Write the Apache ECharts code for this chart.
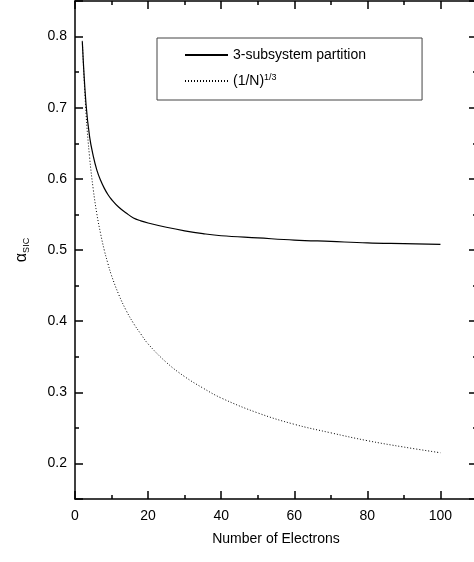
<!DOCTYPE html>
<html>
<head>
<meta charset="utf-8">
<script src="https://cdn.jsdelivr.net/npm/echarts@6/dist/echarts.min.js"></script>
<style>
  html, body { margin: 0; padding: 0; background: #fff; }
  #main { width: 474px; height: 562px; }
</style>
</head>
<body>
<div id="main"></div>
<script>
// number of electrons N
var nElectrons = [2, 3, 4, 5, 6, 7, 8, 9, 10, 12, 14, 16, 18, 20, 25, 30, 35, 40, 50, 60, 70, 80, 90, 100];
// 3-subsystem partition (solid)
var partition = [0.793, 0.706, 0.659, 0.632, 0.612, 0.598, 0.587, 0.578, 0.571, 0.560, 0.552, 0.545, 0.541, 0.538, 0.532, 0.527, 0.523, 0.520, 0.517, 0.514, 0.512, 0.510, 0.509, 0.508];
// (1/N)^(1/3) (dotted)
var cubeRoot = [0.794, 0.693, 0.630, 0.585, 0.550, 0.523, 0.500, 0.481, 0.464, 0.437, 0.415, 0.397, 0.382, 0.368, 0.342, 0.322, 0.306, 0.292, 0.271, 0.255, 0.243, 0.232, 0.223, 0.215];
var seriesNames = ['3-subsystem partition', '(1/N)^1/3'];

function pairs(ys) {
  return nElectrons.map(function (n, i) { return [n, ys[i]]; });
}

var font = 'Liberation Sans, Arial, sans-serif';
var myChart = echarts.init(document.getElementById('main'));

var axisLine = { show: true, onZero: false, lineStyle: { color: '#000', width: 1.5 } };
var majorTick = { show: true, inside: true, length: 8, lineStyle: { color: '#000', width: 1.5 } };
var minorTick = { show: true, splitNumber: 2, length: 4, lineStyle: { color: '#000', width: 1.5 } };

function xAx(pos, labels) {
  return {
    type: 'value', position: pos, min: 0, max: 110, interval: 20,
    axisLine: axisLine, axisTick: majorTick, minorTick: minorTick,
    splitLine: { show: false },
    axisLabel: { show: labels, color: '#000', fontSize: 14, fontFamily: font, margin: 10,
      formatter: function (v) { return v > 100 ? '' : String(v); } },
    name: labels ? 'Number of Electrons' : '',
    nameLocation: 'middle', nameGap: 33,
    nameTextStyle: { color: '#000', fontSize: 14, fontFamily: font }
  };
}

function yAx(pos, labels) {
  return {
    type: 'value', position: pos, min: 0.15, max: 0.85, splitNumber: 7,
    axisLine: axisLine, axisTick: majorTick, minorTick: minorTick,
    splitLine: { show: false },
    axisLabel: { show: labels, color: '#000', fontSize: 14, fontFamily: font, margin: 8,
      showMinLabel: false, showMaxLabel: false,
      formatter: function (v) { return v.toFixed(1); } },
    name: labels ? '{a|α}{s|SIC}' : '',
    nameLocation: 'middle', nameGap: 44, nameRotate: 90,
    nameTextStyle: {
      color: '#000', fontFamily: font,
      rich: {
        a: { fontSize: 16, fontFamily: font, color: '#000', lineHeight: 18, verticalAlign: 'middle' },
        s: { fontSize: 9, fontFamily: font, color: '#000', lineHeight: 18, verticalAlign: 'bottom', padding: [6, 0, 0, 0] }
      }
    }
  };
}

var option = {
  animation: false,
  backgroundColor: '#fff',
  grid: { left: 75, top: 1, right: -3, bottom: 63, containLabel: false, outerBoundsMode: 'none' },
  legend: {
    orient: 'vertical', left: 157, top: 38,
    padding: [10, 56, 12, 27],
    borderColor: '#444', borderWidth: 1,
    itemWidth: 43, itemHeight: 14, itemGap: 11,
    itemStyle: { opacity: 0 },
    data: seriesNames,
    formatter: function (name) {
      if (name === seriesNames[1]) return '{m|(1/N)}{p|1/3}';
      return '{m|' + name + '}';
    },
    textStyle: {
      color: '#000', fontSize: 14, fontFamily: font,
      rich: {
        m: { fontSize: 14, fontFamily: font, color: '#000', lineHeight: 16 },
        p: { fontSize: 9, fontFamily: font, color: '#000', lineHeight: 16, verticalAlign: 'top', padding: [0, 0, 6, 0] }
      }
    }
  },
  xAxis: [xAx('bottom', true), xAx('top', false)],
  yAxis: [yAx('left', true), yAx('right', false)],
  series: [
    {
      name: seriesNames[0], type: 'line', smooth: 0.4, symbol: 'none',
      data: pairs(partition),
      lineStyle: { color: '#000', width: 1.2, type: 'solid' },
      itemStyle: { color: '#000' }
    },
    {
      name: seriesNames[1], type: 'line', smooth: 0.4, symbol: 'none',
      data: pairs(cubeRoot),
      lineStyle: { color: '#000', width: 1, type: [1, 2] },
      itemStyle: { color: '#000' }
    }
  ]
};
myChart.setOption(option);
</script>
</body>
</html>
